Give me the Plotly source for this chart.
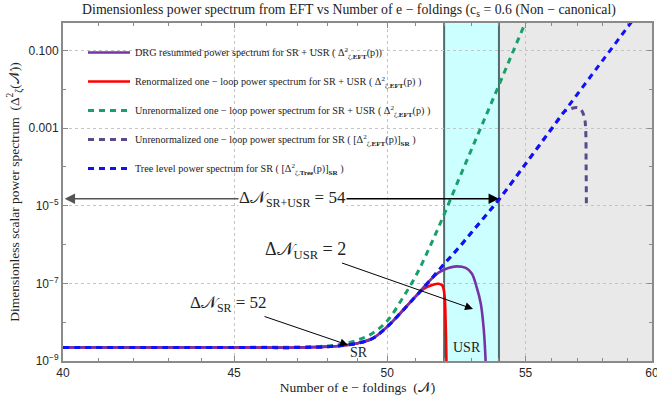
import math
import plotly.graph_objects as go

# ---------------- data ----------------
N_tree = [40, 45, 47, 48, 48.5, 49, 49.5, 50, 50.5, 51, 51.5, 52, 52.5, 53, 53.5, 54, 55, 56, 57, 58, 59, 59.6]
P_tree = [2.24e-9, 2.24e-9, 2.22e-9, 2.34e-9, 2.51e-9, 2.88e-9, 3.8e-9, 7.6e-9, 1.86e-8, 4.7e-8,
          1.2e-7, 3.16e-7, 7.9e-7, 2.09e-6, 5.5e-6, 1.45e-5, 1.2e-4, 9.8e-4, 7.6e-3, 5.6e-2, 0.40, 1.26]

N_unren = [40, 45, 47, 48, 48.5, 49, 49.5, 50, 50.5, 51, 51.5, 52, 52.5, 53, 53.5, 54, 54.5, 55, 55.3]
P_unren = [2.24e-9, 2.24e-9, 2.29e-9, 2.45e-9, 2.75e-9, 3.47e-9, 5.2e-9, 1.07e-8, 3.8e-8, 1.58e-7,
           9.1e-7, 6.0e-6, 4.3e-5, 2.95e-4, 1.95e-3, 1.29e-2, 8.5e-2, 0.54, 1.6]

N_ren = [40, 45, 47, 48, 48.5, 49, 49.5, 50, 50.5, 51, 51.3, 51.55, 51.8, 51.93, 51.99, 52.03, 52.05, 52.07, 52.09]
P_ren = [2.24e-9, 2.24e-9, 2.22e-9, 2.34e-9, 2.51e-9, 2.88e-9, 3.8e-9, 7.6e-9, 1.86e-8, 4.7e-8,
         7.4e-8, 8.9e-8, 9.8e-8, 8.9e-8, 6.6e-8, 3.5e-8, 1.26e-8, 3.2e-9, 5.0e-10]

N_drg = [40, 45, 47, 48, 48.5, 49, 49.5, 50, 50.5, 51, 51.45, 51.8, 52.15, 52.45, 52.78, 53.0, 53.18, 53.33, 53.44, 53.52]
P_drg = [2.24e-9, 2.24e-9, 2.22e-9, 2.34e-9, 2.51e-9, 2.88e-9, 3.8e-9, 7.6e-9, 1.86e-8, 4.7e-8,
         1.1e-7, 1.9e-7, 2.5e-7, 2.75e-7, 2.5e-7, 1.8e-7, 7.9e-8, 3.0e-8, 6.3e-9, 6.3e-10]

N_sr1l = [40, 45, 47, 48, 48.5, 49, 49.5, 50, 50.5, 51, 51.5, 52, 52.5, 53, 53.5, 54, 55, 56,
          56.5, 56.75, 57.0, 57.15, 57.28, 57.32, 57.34, 57.35]
P_sr1l = [2.24e-9, 2.24e-9, 2.22e-9, 2.34e-9, 2.51e-9, 2.88e-9, 3.8e-9, 7.6e-9, 1.86e-8, 4.7e-8,
          1.2e-7, 3.16e-7, 7.9e-7, 2.09e-6, 5.5e-6, 1.45e-5, 1.2e-4, 9.8e-4,
          2.7e-3, 3.2e-3, 3.4e-3, 2.95e-3, 1.78e-3, 1.0e-3, 1.0e-4, 8.9e-6]

x_tickvals = [40, 45, 50, 55, 60]
x_minor = [41, 42, 43, 44, 46, 47, 48, 49, 51, 52, 53, 54, 56, 57, 58, 59]
y_tickvals = [1e-9, 1e-7, 1e-5, 1e-3, 1e-1]
y_ticktext = ["10<sup>\u22129</sup>", "10<sup>\u22127</sup>", "10<sup>\u22125</sup>", "0.001", "0.100"]
y_minor = [1e-8, 1e-6, 1e-4, 1e-2]

N_usr_start, N_usr_end, N_max = 52.0, 54.0, 60.0
N_min = 40.0
dN_total_text = "\u0394\U0001D4A9<sub>SR+USR</sub> = 54"
dN_usr_text = "\u0394\U0001D4A9<sub>USR</sub> = 2"
dN_sr_text = "\u0394\U0001D4A9<sub>SR</sub> = 52"

# ---------------- figure ----------------
W, H = 657, 405
ML, MR, MT, MB = 63, 5, 23, 44
PW, PH = W - ML - MR, H - MT - MB
XR = [math.log10(40) - 1e-7, math.log10(60) + 1e-7]
YR = [-9, -0.29]


def px2x(px):
    return XR[0] + (px - ML) / PW * (XR[1] - XR[0])


def py2y(py):
    return YR[0] + (MT + PH - py) / PH * (YR[1] - YR[0])


SERIF = "Liberation Serif, Times New Roman, serif"
SANS = "Liberation Sans, Arial, sans-serif"
TXT = "#222222"

fig = go.Figure()

fig.add_trace(go.Scatter(x=N_ren, y=P_ren, mode="lines", line=dict(color="#ff0000", width=2.6),
                         name="Renormalized one \u2212 loop power spectrum for SR + USR ( Δ<sup>2</sup><sub>ζ,<b>EFT</b></sub>(p) )",
                         legendrank=2, legendgroup="b", line_shape="spline"))
fig.add_trace(go.Scatter(x=N_drg, y=P_drg, mode="lines", line=dict(color="#7433a6", width=2.6),
                         name="DRG resummed power spectrum for SR + USR ( Δ<sup>2</sup><sub>ζ,<b>EFT</b></sub>(p))",
                         legendrank=1, legendgroup="a", line_shape="spline"))
fig.add_trace(go.Scatter(x=N_unren, y=P_unren, mode="lines", line=dict(color="#17a06c", width=3, dash="6px,5px"),
                         name="Unrenormalized one \u2212 loop power spectrum for SR + USR ( Δ<sup>2</sup><sub>ζ,<b>EFT</b></sub>(p) )",
                         legendrank=3, legendgroup="c", line_shape="spline"))
fig.add_trace(go.Scatter(x=N_sr1l, y=P_sr1l, mode="lines", line=dict(color="#5a4a8c", width=3, dash="6px,5px"),
                         name="Unrenormalized one \u2212 loop power spectrum for SR ( [Δ<sup>2</sup><sub>ζ,<b>EFT</b></sub>(p)]<sub><b>SR</b></sub> )",
                         legendrank=4, legendgroup="d", line_shape="spline"))
fig.add_trace(go.Scatter(x=N_tree, y=P_tree, mode="lines", line=dict(color="#1010ff", width=3, dash="6px,5px"),
                         name="Tree level power spectrum for SR ( [Δ<sup>2</sup><sub>ζ,<b>Tree</b></sub>(p)]<sub><b>SR</b></sub> )",
                         legendrank=5, legendgroup="e", line_shape="spline"))

shapes = [
    dict(type="rect", xref="x", yref="paper", x0=N_usr_start, x1=N_usr_end, y0=0, y1=1,
         fillcolor="#ccffff", line=dict(width=0), layer="below"),
    dict(type="rect", xref="x", yref="paper", x0=N_usr_end, x1=N_max, y0=0, y1=1,
         fillcolor="#e9e9e9", line=dict(width=0), layer="below"),
    dict(type="line", xref="x", yref="paper", x0=N_usr_start, x1=N_usr_start, y0=0, y1=1,
         line=dict(color="#4f6b6b", width=2), layer="below"),
    dict(type="line", xref="x", yref="paper", x0=N_usr_end, x1=N_usr_end, y0=0, y1=1,
         line=dict(color="#4f6b6b", width=2), layer="below"),
]

y_arrow = math.log10(P_tree[N_tree.index(54)]) + 0.02
annotations = [
    dict(x=math.log10(N_usr_end), y=y_arrow, ax=math.log10(48), ay=y_arrow, xref="x", yref="y", axref="x", ayref="y",
         showarrow=True, arrowhead=2, arrowsize=1.3, arrowwidth=1.6, arrowcolor="#000000", text=""),
    dict(x=math.log10(N_min) + 0.0005, y=y_arrow, ax=math.log10(48), ay=y_arrow, xref="x", yref="y", axref="x", ayref="y",
         showarrow=True, arrowhead=2, arrowsize=1.3, arrowwidth=1.6, arrowcolor="#555555", text=""),
    dict(x=px2x(292), y=py2y(199), xref="x", yref="y", text=dN_total_text, showarrow=False,
         font=dict(family=SERIF, size=17, color=TXT), bgcolor="#ffffff", borderpad=0),
    dict(x=px2x(473), y=py2y(309), ax=px2x(305), ay=py2y(250), xref="x", yref="y", axref="x", ayref="y",
         text=dN_usr_text, showarrow=True, arrowhead=2, arrowsize=1.6, arrowwidth=1, arrowcolor="#000000",
         font=dict(family=SERIF, size=18, color=TXT), standoff=0),
    dict(x=px2x(348), y=py2y(345), ax=px2x(228), ay=py2y(304), xref="x", yref="y", axref="x", ayref="y",
         text=dN_sr_text, showarrow=True, arrowhead=2, arrowsize=1.6, arrowwidth=1, arrowcolor="#000000",
         font=dict(family=SERIF, size=17, color=TXT), standoff=0),
    dict(x=px2x(359), y=py2y(352), xref="x", yref="y", text="SR", showarrow=False,
         font=dict(family=SERIF, size=14, color=TXT)),
    dict(x=px2x(467), y=py2y(347), xref="x", yref="y", text="USR", showarrow=False,
         font=dict(family=SERIF, size=14, color=TXT)),
]

axis_common = dict(showline=True, linecolor="#8a8a8a", linewidth=2, mirror="allticks", ticks="inside",
                   ticklen=5, tickcolor="#8a8a8a", showgrid=True, gridcolor="#c4c4c4", griddash="dot",
                   gridwidth=1, zeroline=False, tickfont=dict(family=SANS, size=12, color="#262626"),
                   automargin=False, ticklabeloverflow="allow")

fig.update_layout(
    width=W, height=H, margin=dict(l=ML, r=MR, t=MT, b=MB),
    paper_bgcolor="#ffffff", plot_bgcolor="#ffffff",
    title=dict(text="Dimensionless power spectrum from EFT vs Number of e \u2212 foldings (c<sub>s</sub> = 0.6 (Non \u2212 canonical)",
               x=349 / W, xanchor="center", y=0.99, yanchor="top",
               font=dict(family=SERIF, size=13.8, color=TXT)),
    xaxis=dict(type="log", range=XR, tickvals=x_tickvals, ticktext=[str(v) for v in x_tickvals],
               minor=dict(tickvals=x_minor, ticklen=3, tickcolor="#8a8a8a", showgrid=False, ticks="inside"),
               title=dict(text="Number of e \u2212 foldings  (\U0001D4A9)", font=dict(family=SERIF, size=13.5, color=TXT),
                          standoff=3),
               **axis_common),
    yaxis=dict(type="log", range=YR, tickvals=y_tickvals, ticktext=y_ticktext,
               minor=dict(tickvals=y_minor, ticklen=3, tickcolor="#8a8a8a", showgrid=False, ticks="inside"),
               title=dict(text="Dimensionless scalar power spectrum  (Δ<sup>2</sup><sub>ζ</sub>(\U0001D4A9))",
                          font=dict(family=SERIF, size=13.5, color=TXT), standoff=6),
               **axis_common),
    legend=dict(x=(83 - ML) / PW, y=1 - (38 - MT) / PH, xanchor="left", yanchor="top",
                bgcolor="rgba(0,0,0,0)", borderwidth=0, traceorder="grouped", tracegroupgap=10,
                itemwidth=42, font=dict(family=SERIF, size=10.2, color=TXT)),
    shapes=shapes, annotations=annotations, showlegend=True,
)

fig.write_html("out.html", config={"displayModeBar": False},
               post_script="document.body.style.margin='0px';document.body.style.overflow='hidden';")
